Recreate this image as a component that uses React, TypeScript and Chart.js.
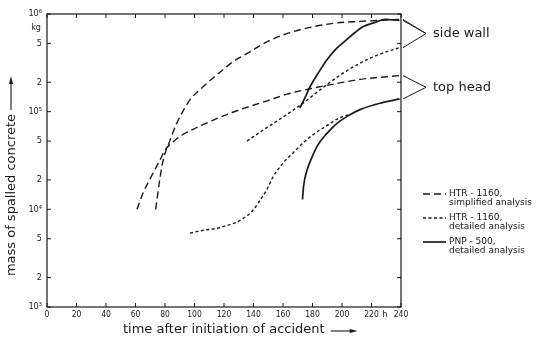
import React, { useEffect, useRef } from "react";
import { Chart, registerables } from "chart.js";

Chart.register(...registerables);

// ---------- data (hours after initiation of accident, mass in kg) ----------
const swSimplifiedH = [73.7, 76.6, 78.8, 83.4, 88.1, 91.5, 96.9, 105.1, 115.3, 126.1, 137.6, 149.2, 164.7, 180.3, 196.6, 212.2, 239];
const swSimplifiedKg = [1.0e4, 2.1e4, 3.2e4, 5.1e4, 7.7e4, 9.7e4, 1.32e5, 1.76e5, 2.39e5, 3.25e5, 4.1e5, 5.2e5, 6.45e5, 7.4e5, 8.1e5, 8.4e5, 8.8e5];

const thSimplifiedH = [61, 65.1, 71.2, 76.6, 80, 84.7, 90.2, 99, 112, 125.4, 137.6, 149.2, 162.7, 180.3, 198.6, 212.2, 239];
const thSimplifiedKg = [1.0e4, 1.47e4, 2.24e4, 3.2e4, 4.05e4, 4.8e4, 5.6e4, 6.6e4, 8.1e4, 9.8e4, 1.135e5, 1.29e5, 1.51e5, 1.74e5, 1.97e5, 2.14e5, 2.34e5];

const swDetailedH = [135.6, 146.4, 158, 166.8, 173.8, 182.8, 191.9, 200.7, 210.2, 221, 234.6, 239];
const swDetailedKg = [5.0e4, 6.46e4, 8.41e4, 1.035e5, 1.23e5, 1.57e5, 2.0e5, 2.48e5, 3.02e5, 3.63e5, 4.32e5, 4.52e5];

const thDetailedH = [97, 105.8, 115.3, 122.7, 128.8, 134.2, 139.7, 144.4, 149.2, 153.2, 160, 166.8, 173.6, 180.3, 189.8, 197.3, 205.4];
const thDetailedKg = [5.7e3, 6.1e3, 6.4e3, 6.9e3, 7.4e3, 8.3e3, 9.8e3, 1.24e4, 1.61e4, 2.14e4, 2.98e4, 3.78e4, 4.78e4, 5.8e4, 7.2e4, 8.5e4, 9.4e4];

const swPnpH = [171.5, 175, 178.3, 184, 189.8, 196, 203.4, 209, 214.2, 222.4, 229.2, 239];
const swPnpKg = [1.09e5, 1.4e5, 1.8e5, 2.5e5, 3.4e5, 4.4e5, 5.5e5, 6.5e5, 7.4e5, 8.2e5, 8.8e5, 8.6e5];

const thPnpH = [173.2, 174, 176.3, 179.7, 183.7, 189.8, 196.6, 205.4, 212.2, 225.8, 239];
const thPnpKg = [1.26e4, 1.75e4, 2.52e4, 3.43e4, 4.57e4, 6.0e4, 7.6e4, 9.3e4, 1.05e5, 1.22e5, 1.35e5];

const xTickValues = [0, 20, 40, 60, 80, 100, 120, 140, 160, 180, 200, 220, 240];
const yTickValues = [1e3, 2e3, 5e3, 1e4, 2e4, 5e4, 1e5, 2e5, 5e5, 1e6];
const yTickLabels = ["10³", "2", "5", "10⁴", "2", "5", "10⁵", "2", "5", "10⁶"];

const xTitle = "time after initiation of accident";
const yTitle = "mass of spalled concrete";
const yUnit = "kg";
const xUnit = "h";
const groupSideWall = "side wall";
const groupTopHead = "top head";
const legendEntries = [
  { line1: "HTR - 1160,", line2: "simplified analysis", ds: 0 },
  { line1: "HTR - 1160,", line2: "detailed analysis", ds: 2 },
  { line1: "PNP - 500,", line2: "detailed analysis", ds: 4 },
];

// ---------- styling ----------
const INK = "#1a1a1a";
const FONT = "'DejaVu Sans', sans-serif";
const TICK_FONT = "'DejaVu Sans Condensed', 'DejaVu Sans', sans-serif";
const DASH_SIMPLIFIED = [7, 4];
const DASH_DETAILED = [3, 2.5];

const pts = (h: number[], kg: number[]) => h.map((v, i) => ({ x: v, y: kg[i] }));

function arrowHead(ctx: CanvasRenderingContext2D, x: number, y: number, dir: "up" | "right") {
  ctx.beginPath();
  if (dir === "up") {
    ctx.moveTo(x, y);
    ctx.lineTo(x - 2, y + 8);
    ctx.lineTo(x + 2, y + 8);
  } else {
    ctx.moveTo(x, y);
    ctx.lineTo(x - 8, y - 2);
    ctx.lineTo(x - 8, y + 2);
  }
  ctx.closePath();
  ctx.fill();
}

const decorPlugin = {
  id: "decor",
  afterDraw(chart: any) {
    const { ctx, chartArea } = chart;
    const { left, right, top, bottom } = chartArea;
    const xs = chart.scales.x;
    const ys = chart.scales.y;
    ctx.save();
    ctx.strokeStyle = INK;
    ctx.fillStyle = INK;
    ctx.setLineDash([]);

    // frame
    ctx.lineWidth = 1.2;
    ctx.strokeRect(left, top, right - left, bottom - top);

    // inward ticks
    ctx.lineWidth = 1;
    ctx.beginPath();
    for (const v of xTickValues) {
      const px = xs.getPixelForValue(v);
      ctx.moveTo(px, bottom);
      ctx.lineTo(px, bottom - 4);
      ctx.moveTo(px, top);
      ctx.lineTo(px, top + 4);
    }
    for (const v of yTickValues) {
      const py = ys.getPixelForValue(v);
      ctx.moveTo(left, py);
      ctx.lineTo(left + 4, py);
      ctx.moveTo(right, py);
      ctx.lineTo(right - 4, py);
    }
    ctx.stroke();

    // units
    ctx.font = `9px ${TICK_FONT}`;
    ctx.textAlign = "right";
    ctx.textBaseline = "middle";
    ctx.fillText(yUnit, left - 6, ys.getPixelForValue(1e6) + 14);
    ctx.textAlign = "center";
    ctx.fillText(xUnit, xs.getPixelForValue(229), bottom + 7.5);

    // y title (rotated) with arrow
    ctx.font = `13px ${FONT}`;
    ctx.save();
    ctx.translate(12, 195);
    ctx.rotate(-Math.PI / 2);
    ctx.textAlign = "center";
    ctx.textBaseline = "middle";
    ctx.fillText(yTitle, 0, 0);
    ctx.restore();
    ctx.lineWidth = 1.1;
    ctx.beginPath();
    ctx.moveTo(11, 110);
    ctx.lineTo(11, 80);
    ctx.stroke();
    arrowHead(ctx, 11, 76, "up");

    // x title with arrow
    ctx.textAlign = "left";
    ctx.textBaseline = "middle";
    const xtX = 123;
    const xtY = 330;
    ctx.fillText(xTitle, xtX, xtY);
    const w = ctx.measureText(xTitle).width;
    ctx.beginPath();
    ctx.moveTo(xtX + w + 6, xtY + 1);
    ctx.lineTo(xtX + w + 28, xtY + 1);
    ctx.stroke();
    arrowHead(ctx, xtX + w + 33, xtY + 1, "right");

    // group brackets
    const ends = (idx: number[]) =>
      idx.map((i) => {
        const d = chart.data.datasets[i].data;
        return ys.getPixelForValue(d[d.length - 1].y);
      });
    const bracket = (idx: number[], label: string) => {
      const e = ends(idx);
      const yMid = (Math.min(...e) + Math.max(...e)) / 2;
      const xTip = right + 25;
      ctx.lineWidth = 1;
      ctx.beginPath();
      for (const py of e) {
        ctx.moveTo(right + 2, py);
        ctx.lineTo(xTip, yMid);
      }
      ctx.stroke();
      ctx.font = `13px ${FONT}`;
      ctx.textAlign = "left";
      ctx.textBaseline = "middle";
      ctx.fillText(label, right + 32, yMid);
    };
    bracket([0, 2, 4], groupSideWall);
    bracket([1, 5], groupTopHead);

    // legend
    ctx.font = `9px ${FONT}`;
    ctx.textAlign = "left";
    ctx.textBaseline = "middle";
    legendEntries.forEach((en, k) => {
      const ds = chart.data.datasets[en.ds];
      const y0 = 194 + k * 24;
      ctx.save();
      ctx.lineWidth = ds.borderWidth;
      ctx.setLineDash(ds.borderDash || []);
      ctx.beginPath();
      ctx.moveTo(right + 22, y0);
      ctx.lineTo(right + 45, y0);
      ctx.stroke();
      ctx.restore();
      ctx.fillText(en.line1, right + 48, y0);
      ctx.fillText(en.line2, right + 48, y0 + 8.5);
    });

    ctx.restore();
  },
};

export default function App() {
  const ref = useRef<HTMLCanvasElement | null>(null);

  useEffect(() => {
    if (!ref.current) return;
    const base = {
      borderColor: INK,
      pointRadius: 0,
      fill: false,
      cubicInterpolationMode: "monotone" as const,
    };
    const chart = new Chart(ref.current, {
      type: "line",
      data: {
        datasets: [
          { ...base, label: "side wall, HTR-1160 simplified", data: pts(swSimplifiedH, swSimplifiedKg), borderWidth: 1.4, borderDash: DASH_SIMPLIFIED },
          { ...base, label: "top head, HTR-1160 simplified", data: pts(thSimplifiedH, thSimplifiedKg), borderWidth: 1.4, borderDash: DASH_SIMPLIFIED },
          { ...base, label: "side wall, HTR-1160 detailed", data: pts(swDetailedH, swDetailedKg), borderWidth: 1.4, borderDash: DASH_DETAILED },
          { ...base, label: "top head, HTR-1160 detailed", data: pts(thDetailedH, thDetailedKg), borderWidth: 1.4, borderDash: DASH_DETAILED },
          { ...base, label: "side wall, PNP-500 detailed", data: pts(swPnpH, swPnpKg), borderWidth: 1.7 },
          { ...base, label: "top head, PNP-500 detailed", data: pts(thPnpH, thPnpKg), borderWidth: 1.7 },
        ],
      },
      options: {
        animation: false,
        responsive: true,
        maintainAspectRatio: false,
        layout: { padding: { top: 14, right: 137, left: 0, bottom: 0 } },
        plugins: { legend: { display: false }, tooltip: { enabled: false } },
        scales: {
          x: {
            type: "linear",
            min: 0,
            max: 240,
            afterBuildTicks: (s: any) => {
              s.ticks = xTickValues.map((v) => ({ value: v }));
            },
            afterFit: (s: any) => {
              s.height = 34;
            },
            grid: { display: false, drawTicks: false },
            border: { display: false },
            ticks: {
              autoSkip: false,
              maxRotation: 0,
              padding: 3,
              color: INK,
              font: { family: TICK_FONT, size: 8.5 },
            },
          },
          y: {
            type: "logarithmic",
            min: 1e3,
            max: 1e6,
            afterBuildTicks: (s: any) => {
              s.ticks = yTickValues.map((v) => ({ value: v }));
            },
            afterFit: (s: any) => {
              s.width = 47;
            },
            grid: { display: false, drawTicks: false },
            border: { display: false },
            ticks: {
              autoSkip: false,
              padding: 5,
              color: INK,
              font: { family: TICK_FONT, size: 9 },
              callback: (v: any) => {
                const i = yTickValues.indexOf(Number(v));
                return i >= 0 ? yTickLabels[i] : "";
              },
            },
          },
        },
      },
      plugins: [decorPlugin],
    });
    return () => chart.destroy();
  }, []);

  return (
    <div style={{ position: "fixed", left: 0, top: 0, width: 538, height: 341, background: "#fff" }}>
      <canvas ref={ref} />
    </div>
  );
}
